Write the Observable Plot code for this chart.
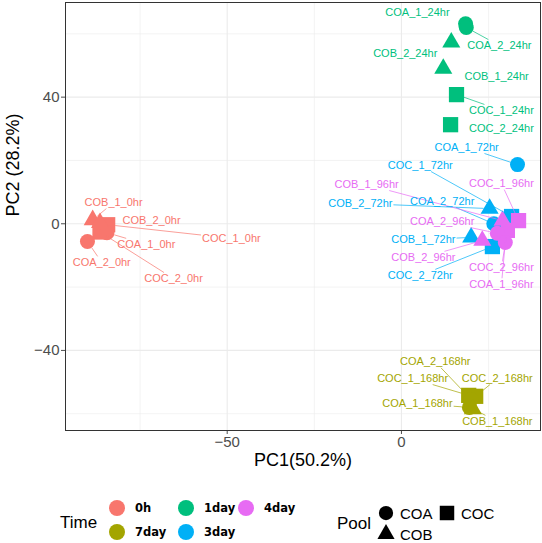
<!DOCTYPE html>
<html><head><meta charset="utf-8">
<script src="https://cdn.jsdelivr.net/npm/d3@7"></script>
<script src="https://cdn.jsdelivr.net/npm/@observablehq/plot@0.6"></script>
<style>
body{margin:0;background:#fff;font-family:"Liberation Sans",Arial,sans-serif}
#chart{position:relative;width:542px;height:543px;overflow:hidden}
</style></head><body><div id="chart"></div>
<script>
// ---- data ----
const samples = [
 "COA_1_0hr","COA_2_0hr","COB_1_0hr","COB_2_0hr","COC_1_0hr","COC_2_0hr",
 "COA_1_24hr","COA_2_24hr","COB_2_24hr","COB_1_24hr","COC_1_24hr","COC_2_24hr",
 "COC_1_168hr","COC_2_168hr","COA_2_168hr","COA_1_168hr","COB_1_168hr",
 "COA_1_72hr","COC_1_72hr","COA_2_72hr","COB_2_72hr","COB_1_72hr",
 "COC_1_96hr","COB_1_96hr","COA_2_96hr","COB_2_96hr","COC_2_96hr","COA_1_96hr",
 "COC_2_72hr"
];
const pc1 = [
 -84.5,-90.1,-88.6,-86.5,-84.3,-86.5,
 18.4,18.6,14.3,12.0,15.8,14.1,
 19.3,21.3,20.0,19.5,20.5,
 33.3,31.6,26.5,25.3,20.0,
 33.6,29.0,27.5,23.2,30.4,29.8,
 26.1
];
const pc2 = [
 -2.8,-5.6,1.2,0.3,-0.3,-2.6,
 63.2,62.0,57.3,49.0,40.8,31.3,
 -54.2,-54.5,-55.5,-58.0,-58.5,
 18.7,2.3,0.0,4.8,-4.3,
 1.0,1.0,-3.0,-5.3,-2.1,-5.9,
 -7.2
];
const times = [
 "0h","0h","0h","0h","0h","0h",
 "1day","1day","1day","1day","1day","1day",
 "7day","7day","7day","7day","7day",
 "3day","3day","3day","3day","3day",
 "4day","4day","4day","4day","4day","4day",
 "3day"
];
const pools = samples.map(s => s.slice(0,3));
// repelled label positions (data units)
const labelPC1 = [
 -73.2,-86.0,-82.6,-71.7,-48.8,-65.4,
 4.6,28.1,1.1,27.3,28.7,28.7,
 3.2,27.5,9.7,4.6,27.5,
 18.7,5.4,11.7,-11.8,6.3,
 28.7,-10.0,11.7,6.3,28.7,28.7,
 5.4
];
const labelPC2 = [
 -6.5,-12.2,6.7,1.0,-4.6,-17.3,
 66.7,56.3,53.9,46.5,35.8,30.1,
 -48.9,-48.9,-43.6,-56.8,-62.4,
 24.1,18.4,7.0,6.4,-5.0,
 12.7,12.4,0.7,-10.6,-13.8,-19.1,
 -16.3
];
// labels that the repel layout left without a leader segment
const unlinkedLabels = ["COB_2_0hr","COA_1_24hr","COB_2_24hr","COB_1_24hr","COC_2_24hr"];
const timeLevels = ["0h","7day","1day","3day","4day"];
const timeColors = ["#F8766D","#A3A500","#00BF7D","#00B0F6","#E76BF3"];
const poolLevels = ["COA","COB","COC"];
const poolSymbols = ["circle","triangle","square"];
const xTicks = [-50, 0];
const xMinor = [-75, -25, 25];
const yTicks = [-40, 0, 40];
const yMinor = [-60, -20, 20, 60];
const xTitle = "PC1(50.2%)";
const yTitle = "PC2 (28.2%)";
const timeTitle = "Time";
const poolTitle = "Pool";

// ---- build ----
const rows = samples.map((s,i) => ({sample:s, pc1:pc1[i], pc2:pc2[i], time:times[i], pool:pools[i], lx:labelPC1[i], ly:labelPC2[i]}));
const symR = {COA:7.5, COB:6.7, COC:8.6};
const edgeR = {COA:7.5, COB:6.0, COC:7.6};
const fmt = d => d < 0 ? "\u2212" + Math.abs(d) : String(d);
const FONT = "Liberation Sans, Arial, sans-serif";

function makePlot(links){
  return Plot.plot({
    width: 542, height: 480,
    marginLeft: 65, marginRight: 2, marginTop: 2, marginBottom: 50,
    x: {domain: [-96.4, 39.9]},
    y: {domain: [-65.3, 69.9]},
    color: {domain: timeLevels, range: timeColors},
    symbol: {domain: poolLevels, range: poolSymbols},
    r: {type: "identity"},
    style: {fontFamily: FONT, background: "white", overflow: "visible"},
    marks: [
      Plot.gridX(xMinor, {stroke:"#ebebeb", strokeOpacity:1, strokeWidth:0.6}),
      Plot.gridY(yMinor, {stroke:"#ebebeb", strokeOpacity:1, strokeWidth:0.6}),
      Plot.gridX(xTicks, {stroke:"#ebebeb", strokeOpacity:1, strokeWidth:1.1}),
      Plot.gridY(yTicks, {stroke:"#ebebeb", strokeOpacity:1, strokeWidth:1.1}),
      Plot.axisX(xTicks, {tickSize:4, tickPadding:2, fontSize:15, color:"#4d4d4d", tickFormat: fmt, label:null}),
      Plot.axisY(yTicks, {tickSize:4, tickPadding:2, fontSize:15, color:"#4d4d4d", tickFormat: fmt, label:null}),
      Plot.dot(rows, {x:"pc1", y:"pc2", fill:"time", symbol:"pool", r: d => symR[d.pool], stroke:"none"}),
      Plot.link(links, {x1:"x1", y1:"y1", x2:"x2", y2:"y2", stroke:"time", strokeWidth:0.7}),
      Plot.text(rows, {x:"lx", y:"ly", text:"sample", fill:"time", fontSize:11}),
      Plot.frame({stroke:"#333", strokeWidth:1}),
      Plot.text([xTitle], {frameAnchor:"bottom", dy:35, fontSize:18, fill:"black"}),
      Plot.text([yTitle], {frameAnchor:"left", dx:-52, rotate:-90, fontSize:18, fill:"black"})
    ]
  });
}

const base = makePlot([]);
const sx = base.scale("x"), sy = base.scale("y");
const ctx = document.createElement("canvas").getContext("2d");
ctx.font = "11px 'Liberation Sans'";
const links = [];
rows.forEach(d => {
  if (unlinkedLabels.includes(d.sample)) return;
  const lx = sx.apply(d.lx), ly = sy.apply(d.ly);
  const px = sx.apply(d.pc1), py = sy.apply(d.pc2);
  const w = ctx.measureText(d.sample).width/2 + 1, h = 6;
  const dx = px - lx, dy = py - ly;
  if (Math.abs(dx) <= w && Math.abs(dy) <= h) return;
  const dist = Math.hypot(dx, dy);
  const t = Math.min(dx ? w/Math.abs(dx) : Infinity, dy ? h/Math.abs(dy) : Infinity);
  const t2 = 1 - edgeR[d.pool]/dist;
  if ((t2 - t) * dist < 3) return;
  links.push({time:d.time,
    x1: sx.invert(lx + dx*t), y1: sy.invert(ly + dy*t),
    x2: sx.invert(lx + dx*t2), y2: sy.invert(ly + dy*t2)});
});
const chart = makePlot(links);
document.getElementById("chart").appendChild(chart);

// ---- legend ----
const leg = d3.select("#chart").append("svg")
  .attr("width", 542).attr("height", 63)
  .style("display","block")
  .style("font-family", FONT);
const oy = 480;
leg.append("text").attr("x",60).attr("y",522-oy).attr("dy","0.35em")
  .attr("font-size",17).text(timeTitle);
timeLevels.forEach((t,i) => {
  const col = Math.floor(i/2), row = i%2;
  const cx = [117,186,246][col], cy = [508,532][row] - oy;
  leg.append("circle").attr("cx",cx).attr("cy",cy).attr("r",8).attr("fill",timeColors[i]);
  leg.append("text").attr("x",cx+18).attr("y",cy).attr("dy","0.35em")
    .attr("font-size",11.5).attr("font-weight","bold").attr("font-family","DejaVu Sans")
    .text(t);
});
leg.append("text").attr("x",337).attr("y",523-oy).attr("dy","0.35em")
  .attr("font-size",17).text(poolTitle);
const poolPos = {COA:[386,513], COB:[386,534], COC:[447,513]};
poolLevels.forEach((p,i) => {
  const [cx,cy] = poolPos[p];
  const r = symR[p]*0.95;
  const sym = {circle:d3.symbolCircle, triangle:d3.symbolTriangle, square:d3.symbolSquare}[poolSymbols[i]];
  leg.append("path").attr("transform",`translate(${cx},${cy-oy})`)
    .attr("d", d3.symbol(sym, Math.PI*r*r)()).attr("fill","black");
  leg.append("text").attr("x",cx+14).attr("y",cy-oy+1).attr("dy","0.35em")
    .attr("font-size",15).text(p);
});
</script>
</body></html>
